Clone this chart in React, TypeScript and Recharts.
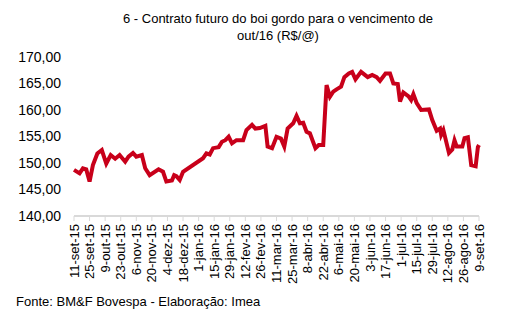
import * as React from 'react';
import { LineChart, Line, XAxis, YAxis } from 'recharts';

// dias corridos desde 11-set-15
const days = [
  0, 5, 8, 11, 14, 17, 21, 25, 29, 33, 37, 41, 46, 49, 53, 56, 61, 64, 68, 76,
  80, 83, 88, 90, 92, 95, 98, 116, 119, 122, 125, 130, 133, 136, 139, 142, 146, 152, 155, 160,
  163, 167, 172, 174, 178, 182, 186, 189, 192, 197, 200, 203, 206, 209, 212, 217, 220, 224, 227, 230,
  233, 236, 240, 243, 247, 250, 253, 258, 264, 268, 272, 275, 280, 284, 287, 291, 293, 296, 301, 303,
  305, 308, 312, 319, 322, 326, 329, 330, 332, 337, 340, 342, 344, 349, 351, 354, 357, 361, 363, 364,
];

const prices = [
  148.7, 148.05, 149.0, 148.8, 146.5, 149.6, 151.8, 152.45, 149.9, 151.5, 150.8, 151.5, 150.25, 151.2, 151.9, 151.2, 151.5, 149.0, 147.7, 148.8,
  148.35, 146.5, 146.7, 147.7, 147.5, 146.8, 148.35, 150.9, 151.8, 151.6, 152.8, 153.0, 154.0, 154.3, 154.95, 153.7, 154.3, 154.3, 156.2, 157.2,
  156.5, 156.6, 157.0, 153.1, 152.8, 154.95, 154.6, 153.1, 156.5, 157.5, 158.9, 157.5, 157.6, 155.9, 155.6, 152.8, 153.4, 153.4, 164.7, 162.5,
  163.45, 163.9, 164.4, 166.2, 166.9, 167.2, 165.8, 167.2, 166.2, 166.6, 166.2, 165.5, 166.9, 166.9, 165.0, 164.9, 161.6, 163.3, 162.5, 161.9,
  163.0, 161.3, 160.0, 160.1, 158.1, 156.1, 156.5, 155.3, 156.2, 151.9, 152.55, 154.3, 153.1, 153.1, 154.7, 154.85, 149.6, 149.4, 153.0, 153.4,
];

const tickLabels = [
  '11-set-15', '25-set-15', '9-out-15', '23-out-15', '6-nov-15', '20-nov-15', '4-dez-15', '18-dez-15', '1-jan-16',
  '15-jan-16', '29-jan-16', '12-fev-16', '26-fev-16', '11-mar-16', '25-mar-16', '8-abr-16', '22-abr-16', '6-mai-16',
  '20-mai-16', '3-jun-16', '17-jun-16', '1-jul-16', '15-jul-16', '29-jul-16', '12-ago-16', '26-ago-16', '9-set-16',
];

const yTicks = [140, 145, 150, 155, 160, 165, 170];

const data = days.map((d, i) => ({ d, v: prices[i] }));
const xTicks = tickLabels.map((_, i) => i * 14);

const font = 'Arial, "Liberation Sans", sans-serif';

function DateTick(props: any) {
  const { x, y, payload } = props;
  const label = tickLabels[Math.round(payload.value / 14)];
  return (
    <text
      transform={`translate(${x},${y}) rotate(-90)`}
      textAnchor="end"
      dy="0.35em"
      fontSize={13}
      fontFamily={font}
      fill="#000"
    >
      {label}
    </text>
  );
}

export default function App() {
  return (
    <div style={{ position: 'absolute', left: 0, top: 0, width: 506, height: 329, background: '#fff', fontFamily: font }}>
      <div style={{ position: 'absolute', left: 78, top: 10, width: 400, textAlign: 'center', fontSize: 13, lineHeight: '17px', color: '#000' }}>
        6 - Contrato futuro do boi gordo para o vencimento de
        <br />
        out/16 (R$/@)
      </div>
      <LineChart width={506} height={329} data={data} margin={{ top: 57, right: 27, left: 0, bottom: 63 }}>
        <XAxis
          dataKey="d"
          type="number"
          domain={[0, 364]}
          ticks={xTicks}
          interval={0}
          height={50}
          axisLine={{ stroke: '#d9d9d9', strokeWidth: 2 }}
          tickLine={{ stroke: '#d9d9d9' }}
          tickSize={5}
          tickMargin={3}
          tick={<DateTick />}
        />
        <YAxis
          domain={[140, 170]}
          ticks={yTicks}
          width={74}
          axisLine={false}
          tickLine={false}
          tickSize={0}
          tickMargin={13}
          tick={{ fontSize: 14, fill: '#000', fontFamily: font }}
          tickFormatter={(v: number) => v.toFixed(2).replace('.', ',')}
        />
        <Line
          type="linear"
          dataKey="v"
          stroke="#c8001a"
          strokeWidth={4}
          dot={false}
          isAnimationActive={false}
        />
      </LineChart>
      <div style={{ position: 'absolute', left: 16, top: 294, fontSize: 13, color: '#000' }}>
        Fonte: BM&amp;F Bovespa - Elaboração: Imea
      </div>
    </div>
  );
}
